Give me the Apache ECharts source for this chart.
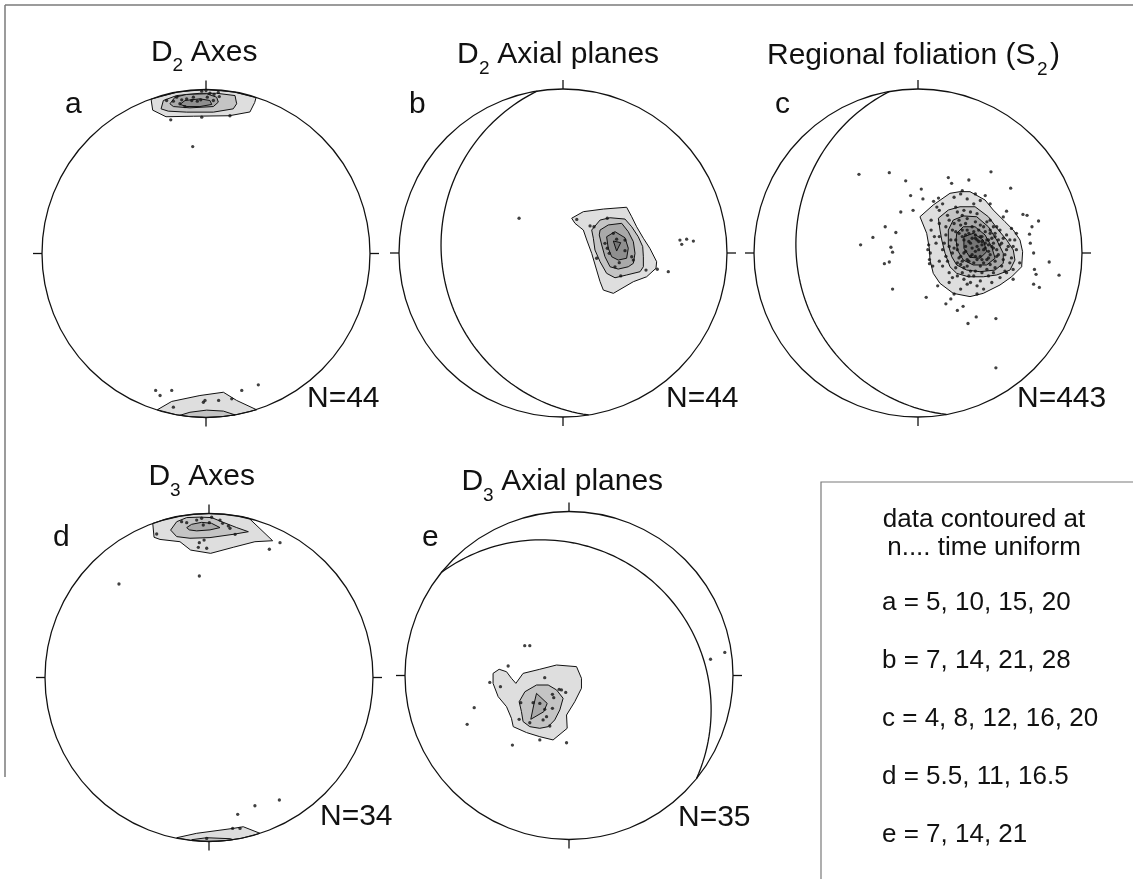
<!DOCTYPE html>
<html><head><meta charset="utf-8">
<script src="https://cdn.jsdelivr.net/npm/echarts@6/dist/echarts.min.js"></script>
<style>html,body{margin:0;padding:0;background:#fff}#c{width:1133px;height:879px}</style>
</head><body><div id="c"></div><script>
// ---- DATA (net coordinates: primitive radius = 100, x = east, y = north) ----
// contours: [levelIndex, polygon vertices]
const contoursA = [
 [0, [[-33.5,94.1],[-32.5,87.4],[-24.4,83.4],[-7.7,83.7],[14.2,84.0],[26.8,86.3],[29.7,92.1],[30.5,95.0],[17.4,98.5],[0,100],[-17.4,98.5]]],
 [1, [[-27.4,88.2],[-26,93.3],[-17.9,96.3],[-3.7,97.7],[6.5,97.7],[17.7,96.3],[18.7,91.3],[16.6,88.2],[4.5,86.2],[-11.8,86.2],[-23,86.8]]],
 [2, [[-22,91.3],[-18.9,95.3],[-11.8,97],[0.4,97.4],[6.5,95.3],[7.5,92.3],[4.5,89.6],[-9.8,88.8],[-19.9,89.6]]],
 [3, [[-15.9,90.9],[-12.8,93.3],[-3.7,94.3],[2.4,93.3],[3.5,90.9],[-3.7,89.6],[-11.8,89.6]]],
 [0, [[-29.7,-95.3],[-20.9,-90.2],[-3.7,-86.6],[10.6,-84.6],[18.7,-89.6],[30.9,-95.3],[17.4,-98.5],[0,-100],[-17.4,-98.5]]],
 [1, [[-16,-98.7],[-9.8,-96.8],[0.4,-95.5],[10.6,-96.1],[17.7,-98.4],[8.7,-99.6],[0,-100],[-8.7,-99.6]]]
];
const pointsA = [[-24,93.3],[-19.9,92.9],[-17.9,95.3],[-14.8,93.7],[-11.8,94.3],[-8.7,93.3],[-7.7,95.3],[-5.3,92.9],[-3.2,93.7],[-2.6,99],[0,99.4],[0.8,95.3],[2.4,97.7],[4.9,97],[7.5,98.2],[8.1,95.7],[-12.8,89.6],[-15.9,91.3],[-21.5,81.5],[-2.6,83.1],[14.6,84],[-8.1,65.2],[4.5,93.3],
 [-30.7,-83.5],[-28,-86.6],[-20.9,-83.5],[-19.9,-93.7],[-1.6,-90.7],[-0.6,-89.6],[7.7,-89.6],[15.7,-88.6],[21.8,-83.5],[31.9,-80.1]];

const contoursB = [
 [0, [[5.3,21.2],[12.4,25.2],[24.6,26.8],[38.8,27.9],[41.9,22.1],[44.9,16],[49,9],[53,2.8],[57.1,-5.3],[56.7,-9.3],[51,-14.5],[42.9,-17.5],[30.7,-24.6],[24.6,-22.6],[22.6,-17.5],[20.5,-10.4],[17.5,-0.2],[14.5,7.9],[12.4,14],[7.3,18.1]]],
 [1, [[17.5,14],[22.6,20.1],[28.7,21.5],[37.8,20.7],[41.9,16],[45.9,9.9],[48.6,3.9],[49,-2.3],[49,-8.4],[47,-11.4],[38.8,-13.4],[31.7,-15.1],[26.6,-12.4],[22.6,-5.3],[19.5,1.8],[18.5,9]]],
 [2, [[22.6,14],[27.6,17.1],[35.8,18.1],[39.8,13],[42.9,6.9],[43.9,-0.2],[42.9,-6.3],[39.8,-8.4],[33.7,-9.8],[28.7,-8.4],[25.6,-2.3],[23.6,4.9],[22.1,11]]],
 [3, [[26.6,9.9],[31.7,13],[37.8,9.3],[39.8,2.9],[38.8,-3.2],[33.7,-4.3],[29.7,-2.3],[27.6,2.9]]],
 [4, [[30.7,7.3],[35.2,6.3],[32.7,1.2]]]
];
const pointsB = [[-26.8,21.2],[71.3,7.9],[75.4,8.4],[79.5,7.3],[72.4,5.3],[57.5,-9.9],[64.2,-11.4],[50.6,-10.4],[35.2,-14],[8.4,20.5],[16.5,16.5],[18.9,16],[27,21.2],[30.7,12],[32.7,8.4],[37.8,1.4],[41.9,-2.3],[42.9,-4.3],[27,2.9],[28.2,-0.2],[31.7,-8.4],[37.8,7.9],[20.5,-3.2],[34.3,-5.9],[25.6,5.9]];
const planesB = [[261,17]]; // [dip direction, dip]

const contoursC = [
 [0, [[1.2,22.1],[9.3,29.3],[19.5,36.4],[25.6,37.4],[31.7,37.4],[40.9,32.3],[45.9,26.2],[53,19.1],[58.1,14],[62.2,7.9],[63.8,0.8],[63.2,-8.4],[57.1,-14.5],[50,-19.5],[39.8,-24.6],[31.7,-26.6],[21.5,-24.6],[13.4,-18.5],[9.3,-12.4],[7.3,-4.3],[6.9,2.9],[5.3,12]]],
 [1, [[12.4,21.2],[18.5,26.2],[25.6,28.2],[34.8,28.2],[42.9,22.1],[49,14],[54.1,7.9],[58.1,1.8],[59.1,-4.3],[56.1,-10.4],[48,-13.4],[39.8,-14.5],[30.7,-14.5],[23.6,-12.4],[19.5,-8.4],[16.5,-0.2],[14.5,7.9],[13.4,14]]],
 [2, [[18.5,14],[21.5,20.1],[27.6,22.6],[35.8,22.1],[42.9,16],[48,7.9],[52,-0.2],[52,-6.3],[47,-10.4],[37.8,-11.4],[29.7,-10.4],[23.6,-7.3],[20.6,-2.3],[18.5,4.9]]],
 [3, [[23.6,12],[27.6,16],[34.8,16],[40.9,11],[44.9,3.8],[47,-3.2],[41.9,-7.3],[33.7,-7.3],[27.6,-4.3],[24,1.8],[23.2,7.9]]],
 [4, [[28,9.9],[33.7,12],[39.8,7.9],[41.9,0.8],[37.8,-3.2],[31.7,-2.6],[28,2.9]]]
];
const pointsC = [[-36,48],[-17.5,49],[-7.5,44],[2,39],[-4.5,35],[-10.5,25],[-3,26],[-20,16],[-13.5,12.5],[-27.5,9.5],[-35,5],[-16.5,3.5],[-15.5,0.5],[-17.5,-5.5],[-20.5,-6.5],[-15.5,-22],[5,-27],[17,-31],[20,-28],[24,-35],[27.5,-32.5],[30.5,-43],[35.5,-39],[47.5,-40],[47.5,-70],[18.5,46],[20.5,42.5],[31,44.5],[44.5,49.5],[56.5,39.5],[54,25.5],[64,23.5],[66.5,23],[73.5,19.5],[69.5,16],[68,11.5],[68.5,6],[70.5,0],[80,-5.5],[86,-13.5],[71,-10],[72,-13],[70.5,-19],[74,-21],[6.5,5],[7.5,0],[7,-6.5],[3,33],[9.5,31.5],[12.5,33.5],[11.5,28],
 [13,26],[18,23],[22,34],[26,36],[30,33],[34,30],[38,32],[41,35],[24,25],[27,23],[19,20],[30,21],[35,19],[38,17],[42,19],[46,16],[50,14],[54,11],[56,8],[58,4],[54,2],[50,5],[46,6],[42,8],[38,10],[34,13],[30,14],[26,17],[21,14],[17,11],[13,10],[11,6],[15,2],[19,4],[24,5],[28,8],[32,6],[36,4],[40,2],[44,-1],[48,-2],[52,-4],[56,-6],[58,-10],[54,-12],[50,-15],[46,-12],[42,-10],[38,-8],[34,-6],[30,-4],[26,-2],[21,0],[17,-2],[13,-5],[15,-8],[19,-12],[24,-14],[28,-16],[32,-18],[36,-20],[40,-22],[26,-22],[19,-18],[34,-14],[38,-2],[42,-4],[28,-9],[32,-11],[24,-6],[36,8],[44,12],[48,2],[13,18],[8,14],[6,2],[7,-4],[33,9],[35,11],[37,7],[39,5],[41,3],[43,5],[45,9],[31,7],[29,4],[27,10],[25,12],[23,8],[29,11],[33,3],[35,1],[39,7],[43,1],[47,10],[41,13],[32,-2],[36,-4],[40,-6],[44,-7],[28,0],[24,2],[26,-7],[30,-8],
 [22,18],[25,20],[29,18],[33,16],[37,14],[40,16],[44,14],[47,12],[49,8],[51,6],[45,4],[41,6],[37,2],[33,-1],[29,1],[25,-3],[22,3],[20,8],[23,13],[27,14],[31,12],[35,9],[39,10],[43,8],[46,3],[49,-1],[47,-5],[43,-3],[39,-4],[35,-2],[31,-5],[27,-5],[23,-9],[27,-12],[31,-14],[35,-11],[39,-12],[43,-14],[47,-9],[51,-8],[53,-1],[55,4],[52,9],[48,16],[44,20],[36,24],[32,25],[28,26],[23,28],[17,16],[16,6],[18,-5],[21,-15],[30,-19],[38,-17],[45,-18],[53,-11],[57,-3],[60,2],[59,8],
 [60,12],[62,-6],[58,-16],[36,-25],[22,-25],[12,-20],[9,-8],[10,10],[8,20],[15,30],[27,38],[35,36],[44,30],[52,22],[57,15]];
const planesC = [[260,17]];

const contoursD = [
 [0, [[-34.3,94],[-33.5,85.5],[-29.9,84.2],[-17.7,82.8],[-11.2,77.7],[1,75.7],[14.8,79.4],[28,82.8],[38.8,83.4],[24.5,97],[17.4,98.5],[8.7,99.6],[0,100],[-8.7,99.6],[-17.4,98.5],[-26,96.6]]],
 [1, [[-23.4,89.9],[-19.7,95],[-13.6,97.5],[-5.5,97.8],[1.6,97.5],[8.7,94.6],[16.9,91.4],[24,88.9],[14.8,87.3],[0.6,85.3],[-11.6,84.9],[-19.7,85.9]]],
 [2, [[-13.6,91.4],[-10.6,93.4],[-4.5,94.6],[1.6,94],[6.7,91.4],[0.6,90],[-7.5,89.4],[-12,90]]],
 [0, [[-19.7,-97.7],[-7.5,-95],[14.8,-92],[20.9,-91],[31.1,-95],[20,-98],[10,-99.5],[0,-100],[-10,-99.5]]],
 [1, [[-10.6,-98.9],[-1.4,-97.7],[12.8,-98.3],[14.8,-98.9],[5,-99.9],[-5,-99.9]]]
];
const pointsD = [[-16.7,95],[-13.6,94.4],[-7.5,96],[-4.5,97.1],[-3.5,93],[0.2,94.4],[1.6,97.7],[6.7,96],[8.3,94],[11.8,92.4],[12.8,91],[-5.9,82.2],[-3,83.8],[-6.5,79.4],[-1.4,78.8],[-31.9,87.5],[15.9,87.3],[36.8,78.2],[43.3,82.2],[-5.9,61.9],[-54.9,57],
 [17.5,-83.4],[28,-78.2],[42.9,-74.7],[14.4,-92],[18.9,-92],[-1.4,-98.1]];

const contoursE = [
 [0, [[-46.3,1.3],[-42.6,3.8],[-38.1,2.3],[-35.1,-1.7],[-32.4,-4.8],[-28,1.3],[-17.8,3.8],[-7.6,6.4],[4.6,5.4],[7.6,-1.7],[7.6,-7.8],[3.5,-16],[-1.5,-24.1],[-1.1,-32.2],[-9.7,-39.3],[-17.8,-37.3],[-25.9,-34.8],[-34,-31.2],[-35.1,-26.1],[-38.1,-19],[-43.2,-12.9],[-46.3,-4.8]]],
 [1, [[-30.4,-16],[-26.9,-9.9],[-19.8,-5.8],[-12.7,-5.8],[-7.6,-8.8],[-3.6,-13.9],[-5.6,-21],[-8.7,-27.1],[-12.7,-31.2],[-17.8,-32.2],[-23.9,-31.2],[-28,-28.1],[-29,-22]]],
 [2, [[-19.8,-10.9],[-13.3,-17],[-15.4,-22.1],[-23.3,-26.7],[-21.5,-18]]]
];
const pointsE = [[-27,18.2],[-23.9,18.2],[-37.1,5.8],[-48.3,-4.2],[-41.8,-6.8],[-57.8,-19.6],[-62.1,-29.8],[-34.5,-42.4],[-17.8,-39.3],[-1.5,-41],[-14.8,-1.3],[-6,-8.4],[-4.6,-8.8],[-2,-10.3],[-10.1,-11.5],[-9.3,-13.5],[-10.1,-20],[-14.8,-20.6],[-13.7,-25.1],[-29.4,-16.6],[-21.9,-16.6],[-17.8,-17],[-30.4,-26.7],[-23.9,-28.8],[-15.8,-27.1],[-11.7,-30.8],[86.3,9.9],[95,14.1]];
const planesE = [[39,15]];

const netTitles = [['D','2',' Axes'],['D','2',' Axial planes'],['Regional foliation (S','2',')'],['D','3',' Axes'],['D','3',' Axial planes']];
const netLetters = ['a','b','c','d','e'];
const netCounts = ['N=44','N=44','N=443','N=34','N=35'];
const legendHead = ['data contoured at','n.... time uniform'];
const legendLines = ['a = 5, 10, 15, 20','b = 7, 14, 21, 28','c = 4, 8, 12, 16, 20','d = 5.5, 11, 16.5','e = 7, 14, 21'];

// ---- LAYOUT ----
const R = 164;
const FONT = 'Arial, "Liberation Sans", Helvetica, sans-serif';
const palette = ['#dedede','#c4c4c4','#a9a9a9','#8f8f8f','#767676'];
const nets = [
 {cx:206, cy:253.5, contours:contoursA, points:pointsA, planes:[],
  title:[[151,63.5,30],[172.5,72,19],[182.5,63.5,30]], letter:[65,115], count:[307,409.5]},
 {cx:563, cy:253, contours:contoursB, points:pointsB, planes:planesB,
  title:[[457,65.5,30],[479,75,19],[489,65.5,30]], letter:[409,115], count:[666,409.5]},
 {cx:918, cy:253, contours:contoursC, points:pointsC, planes:planesC,
  title:[[767,66,30],[1037,76.5,19],[1050,66,30]], letter:[775,115], count:[1017,409.5]},
 {cx:209, cy:677.5, contours:contoursD, points:pointsD, planes:[],
  title:[[148.5,487,30],[170,497,19],[180,487,30]], letter:[53,548], count:[320,827]},
 {cx:569, cy:675.5, contours:contoursE, points:pointsE, planes:planesE,
  title:[[461.5,492,30],[483,502,19],[493,492,30]], letter:[422,548], count:[678,828]}
];

function txt(s, x, baseline, size, align) {
  return {type:'text', silent:true, z:100,
    style:{text:s, x:x, y:baseline - 0.347*size, font:size+'px '+FONT, fill:'#111',
      textAlign:align||'left', textVerticalAlign:'middle'}};
}

const grid=[], xAxis=[], yAxis=[], series=[], graphic=[];
nets.forEach((n,i)=>{
  grid.push({left:n.cx-R, top:n.cy-R, width:2*R, height:2*R, show:false});
  xAxis.push({type:'value', gridIndex:i, min:-100, max:100, show:false});
  yAxis.push({type:'value', gridIndex:i, min:-100, max:100, show:false});
  // contours
  series.push({type:'custom', xAxisIndex:i, yAxisIndex:i, clip:false, silent:true, z:1,
    data:n.contours.map((c,j)=>[0,0,j]),
    renderItem:(p,api)=>{
      const c = n.contours[p.dataIndex];
      return {type:'polygon', shape:{points:c[1].map(v=>api.coord(v))},
        style:{fill:palette[c[0]], stroke:'#111', lineWidth:1}};
    }});
  // primitive + ticks
  series.push({type:'custom', xAxisIndex:i, yAxisIndex:i, clip:false, silent:true, z:3,
    data:[[0,0]],
    renderItem:(p,api)=>{
      const c = api.coord([0,0]); const r = api.coord([100,0])[0]-c[0]; const t = r*0.055;
      const ls = {stroke:'#111', lineWidth:1.3};
      return {type:'group', children:[
        {type:'circle', shape:{cx:c[0], cy:c[1], r:r}, style:{fill:null, stroke:'#111', lineWidth:1.3}},
        {type:'line', shape:{x1:c[0], y1:c[1]-r-t, x2:c[0], y2:c[1]-r}, style:ls},
        {type:'line', shape:{x1:c[0], y1:c[1]+r, x2:c[0], y2:c[1]+r+t}, style:ls},
        {type:'line', shape:{x1:c[0]-r-t, y1:c[1], x2:c[0]-r, y2:c[1]}, style:ls},
        {type:'line', shape:{x1:c[0]+r, y1:c[1], x2:c[0]+r+t, y2:c[1]}, style:ls}
      ]};
    }});
  // great circles (stereographic, lower hemisphere)
  if (n.planes.length) series.push({type:'custom', xAxisIndex:i, yAxisIndex:i, clip:false, silent:true, z:3,
    data:n.planes.map(pl=>[0,0,pl[0],pl[1]]),
    renderItem:(p,api)=>{
      const dd = api.value(2)*Math.PI/180, dip = api.value(3)*Math.PI/180;
      const s = [Math.sin(dd-Math.PI/2), Math.cos(dd-Math.PI/2), 0];
      const dv = [Math.sin(dd)*Math.cos(dip), Math.cos(dd)*Math.cos(dip), Math.sin(dip)];
      const pts = [];
      for (let k=0;k<=180;k+=2){
        const a = k*Math.PI/180;
        const v = [Math.cos(a)*s[0]+Math.sin(a)*dv[0], Math.cos(a)*s[1]+Math.sin(a)*dv[1], Math.cos(a)*s[2]+Math.sin(a)*dv[2]];
        pts.push(api.coord([100*v[0]/(1+v[2]), 100*v[1]/(1+v[2])]));
      }
      return {type:'polyline', shape:{points:pts}, style:{fill:null, stroke:'#111', lineWidth:1.3}};
    }});
  // data points
  series.push({type:'scatter', xAxisIndex:i, yAxisIndex:i, silent:true, z:4,
    symbol:'circle', symbolSize:3.3, itemStyle:{color:'#111'}, data:n.points});
  // texts
  const tt = netTitles[i];
  graphic.push(txt(tt[0], n.title[0][0], n.title[0][1], n.title[0][2]));
  graphic.push(txt(tt[1], n.title[1][0], n.title[1][1], n.title[1][2]));
  graphic.push(txt(tt[2], n.title[2][0], n.title[2][1], n.title[2][2]));
  graphic.push(txt(netLetters[i], n.letter[0], n.letter[1], 30));
  graphic.push(txt(netCounts[i], n.count[0], n.count[1], 30));
});

// frame and legend box
graphic.push({type:'line', silent:true, shape:{x1:5, y1:5, x2:1133, y2:5}, style:{stroke:'#7a7a7a', lineWidth:1.5}});
graphic.push({type:'line', silent:true, shape:{x1:5, y1:5, x2:5, y2:777}, style:{stroke:'#7a7a7a', lineWidth:1.5}});
graphic.push({type:'rect', silent:true, shape:{x:821, y:482, width:400, height:500}, style:{fill:null, stroke:'#7a7a7a', lineWidth:1.2}});
graphic.push(txt(legendHead[0], 984, 529, 26, 'center'));
graphic.push(txt(legendHead[1], 984, 557, 26, 'center'));
const legBase = [612, 670, 727.5, 786, 843.5];
legendLines.forEach((s,k)=>graphic.push(txt(s, 882, legBase[k], 26)));

const chart = echarts.init(document.getElementById('c'), null, {renderer:'canvas'});
chart.setOption({animation:false, backgroundColor:'#fff', grid, xAxis, yAxis, series, graphic});
</script></body></html>
